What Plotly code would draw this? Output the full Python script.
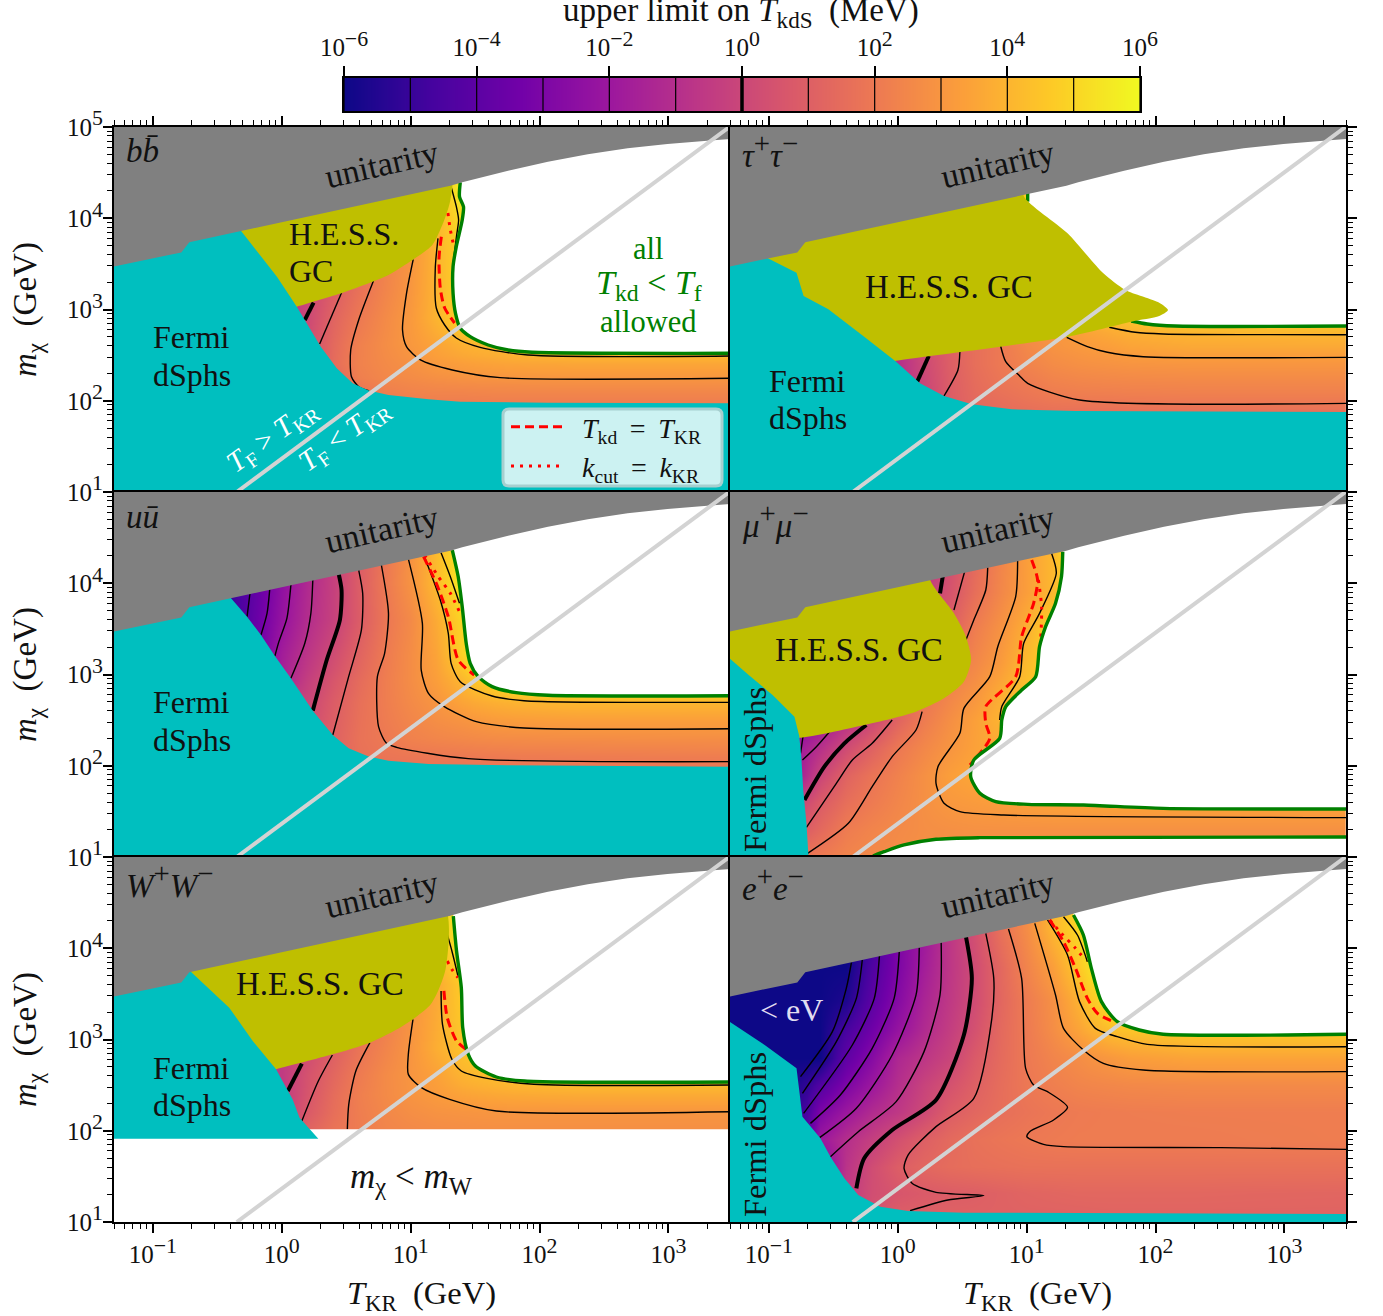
import plotly.graph_objects as go

W, H = 1383, 1316
FONT = "Liberation Serif"
TEAL, OLIVE, GRAY, GREEN, DIAG = "#00BFBF", "#BFBF00", "#808080", "#008000", "#D3D3D3"

# Shared curves: log10(T_KR / GeV) and log10(m_chi / GeV)
UNI_T = [-1.31, -0.779, -0.717, -0.315, 1.308, 1.400, 1.756, 2.065, 2.374, 2.683, 2.992, 3.301, 3.49]
UNI_M = [3.469, 3.626, 3.736, 3.860, 4.357, 4.394, 4.521, 4.620, 4.700, 4.766, 4.814, 4.850, 4.870]
DIAG_T = [-0.349, 3.473]
DIAG_M = [1.0, 5.0]
X_DECADES = [-1, 0, 1, 2, 3]
Y_DECADES = [1, 2, 3, 4, 5]
CB_LEVELS = [-6, -5, -4, -3, -2, -1, 0, 1, 2, 3, 4, 5, 6]
CB_TICKS = [-6, -4, -2, 0, 2, 4, 6]

# ---------- b bbar ----------
BB_COLS = [0, .2, .4, .6, .8, 1, 1.2, 1.4, 1.6, 2, 3.5]
BB_ROWS = [1.9, 2.1, 2.25, 2.4, 2.6, 2.9, 3.2, 3.6, 4.0, 4.4]
BB_Z = [
    [-1, 0, 1, 1.5, 1.9, 2, 2, 2, 2, 2, 2],
    [-1, 0, 1, 1.8, 2.2, 2.35, 2.4, 2.4, 2.45, 2.45, 2.45],
    [-1, 0, 1.2, 2.2, 2.5, 2.65, 2.8, 2.9, 2.95, 3, 3],
    [-1, .2, 1.5, 2.3, 2.6, 2.85, 3.15, 3.3, 3.45, 3.55, 3.55],
    [-1, .3, 1.4, 2.25, 2.7, 3.1, 3.5, 3.9, 4.1, 4.5, 4.5],
    [-1, .1, 1.2, 2, 2.6, 3.15, 4, 4.9, 6, 6, 6],
    [-1, 0, .9, 1.7, 2.4, 3.05, 4, 5, 6, 6, 6],
    [-1, -.1, .8, 1.5, 2.3, 3, 4, 5, 6, 6, 6],
    [-1, -.2, .6, 1.4, 2.3, 3.2, 4, 5.2, 6, 6, 6],
    [-1, -.2, .6, 1.4, 2.3, 3.2, 4.2, 5.8, 6, 6, 6],
]
BB_FERMI_T = [-1.31, -.315, -.315, -.176, -.037, .117, .179, .303, .427, .550, .674, .828, 1.138, 1.385, 2.065, 3.49, 3.49, -1.31]
BB_FERMI_M = [4.0, 4.0, 3.860, 3.616, 3.360, 3.031, 2.885, 2.593, 2.355, 2.191, 2.111, 2.063, 2.016, 1.990, 1.979, 1.972, 1.0, 1.0]
BB_HESS_T = [-.4, 1.308, 1.308, 1.261, 1.168, 1.014, .828, .674, .473, .117, -.1, -.4]
BB_HESS_M = [3.9, 4.5, 4.200, 3.981, 3.707, 3.542, 3.378, 3.287, 3.184, 3.031, 2.94, 3.3]
BB_GREEN = [([1.385, 1.379, 1.410, 1.400, 1.354, 1.329, 1.329, 1.348, 1.385, 1.462, 1.601, 1.756, 1.941, 3.49],
             [4.394, 4.236, 4.127, 3.981, 3.689, 3.469, 3.177, 2.958, 2.794, 2.702, 2.611, 2.556, 2.531, 2.520])]
BB_WHITE = [([1.385, 1.379, 1.410, 1.400, 1.354, 1.329, 1.329, 1.348, 1.385, 1.462, 1.601, 1.756, 1.941, 3.49, 3.49, 1.385],
             [4.394, 4.236, 4.127, 3.981, 3.689, 3.469, 3.177, 2.958, 2.794, 2.702, 2.611, 2.556, 2.531, 2.520, 5, 5])]
BB_CONTOURS = [
    (0, [.247, .179], [3.075, 2.885]),
    (1, [.464, .294], [3.184, 2.622]),
    (2, [.711, .597, .535, .541, .597, .674], [3.312, 2.885, 2.556, 2.264, 2.154, 2.111]),
    (3, [1.020, .968, .937, .968, 1.076, 1.323, 1.694, 3.49], [3.550, 3.177, 2.775, 2.593, 2.447, 2.337, 2.253, 2.246]),
    (4, [1.212, 1.191, 1.199, 1.264, 1.354, 1.539, 1.910, 3.49], [3.780, 3.451, 3.016, 2.830, 2.688, 2.585, 2.501, 2.490]),
    (5, [1.310, 1.357, 1.372, 1.357, 1.333, 1.326], [4.364, 4.112, 3.981, 3.816, 3.542, 3.411]),
]
BB_DASH = ([1.238, 1.220, 1.230, 1.264, 1.341], [3.798, 3.564, 3.235, 3.016, 2.852])
BB_DOT = ([1.289, 1.308, 1.336], [4.057, 3.872, 3.688])

# ---------- tau tau ----------
TT_COLS = [0, .2, .4, .6, .8, 1, 1.2, 1.4, 1.6, 2, 3.5]
TT_ROWS = [1.85, 2.0, 2.2, 2.4, 2.6, 2.75, 2.9, 3.2, 4.4]
TT_Z = [
    [-1, -.3, .8, 1.3, 1.45, 1.5, 1.55, 1.55, 1.55, 1.55, 1.55],
    [-1, -.2, .9, 1.4, 1.6, 1.8, 1.95, 2, 2, 2.05, 2.05],
    [-1, 0, .9, 1.5, 1.85, 2.05, 2.3, 2.4, 2.45, 2.5, 2.5],
    [-1, .1, .95, 1.6, 2, 2.35, 2.65, 2.8, 2.9, 3, 3],
    [-1, .2, 1, 1.6, 2, 2.55, 2.9, 3.1, 3.3, 3.6, 3.6],
    [-1, .2, 1, 1.6, 2.1, 2.7, 3, 3.3, 3.7, 4.05, 4.1],
    [-1, .2, 1, 1.7, 2.2, 2.8, 3.2, 3.6, 4.3, 4.8, 4.8],
    [-1, .2, 1, 1.7, 2.3, 2.9, 3.3, 3.7, 4.5, 5, 5],
    [-1, .2, 1, 1.7, 2.6, 5.2, 5.5, 5.5, 5.5, 5.5, 5.5],
]
TT_FERMI_T = [-1.31, -1.008, -1.008, -.785, -.730, -.538, -.260, -.012, .173, .359, .575, .884, 1.379, 3.49, 3.49, -1.31]
TT_FERMI_M = [4.0, 4.0, 3.561, 3.404, 3.148, 3.002, 2.702, 2.428, 2.191, 2.052, 1.961, 1.906, 1.888, 1.877, 1.0, 1.0]
TT_HESS_T = [-1.1, -1.1, .977, .977, 1.317, 1.595, 1.765, 2.028, 2.096, 2.028, 1.811, 1.317, -.012, -.3, -.5, -.9]
TT_HESS_M = [3.4, 3.9, 4.5, 4.244, 3.835, 3.396, 3.214, 3.075, 2.995, 2.929, 2.867, 2.702, 2.439, 2.38, 2.8, 3.2]
TT_GREEN = [([1.008, 1.008], [4.290, 4.182]),
            ([1.811, 1.935, 2.151, 3.49], [2.874, 2.841, 2.819, 2.819])]
TT_WHITE = [([1.008, 1.008, 1.811, 1.935, 2.151, 3.49, 3.49], [5, 4.18, 2.874, 2.841, 2.819, 2.819, 5])]
TT_CONTOURS = [
    (0, [.241, .151], [2.490, 2.209]),
    (1, [.482, .467, .359], [2.538, 2.337, 2.052]),
    (2, [.798, .838, .946, 1.008, 1.410, 3.49], [2.600, 2.428, 2.271, 2.191, 2.008, 1.972]),
    (3, [1.311, 1.471, 1.626, 1.904, 3.49], [2.695, 2.593, 2.531, 2.483, 2.476]),
    (4, [1.641, 1.842, 2.059, 3.49], [2.805, 2.750, 2.732, 2.724]),
]

# ---------- u ubar ----------
UU_COLS = [-.4, -.2, 0, .2, .4, .6, .8, 1, 1.2, 1.4, 1.6, 2, 3.5]
UU_ROWS = [1.9, 2.1, 2.3, 2.5, 2.7, 2.9, 3.2, 3.6, 4.0, 4.4]
UU_Z = [
    [-1, -1, 0, .5, 1, 1.4, 1.6, 1.65, 1.7, 1.7, 1.7, 1.7, 1.7],
    [-1, -1, 0, .7, 1.1, 1.7, 1.85, 1.92, 1.96, 2, 2.05, 2.1, 2.15],
    [-1, -1, 0, .7, 1.1, 1.75, 2, 2.3, 2.45, 2.55, 2.65, 2.7, 2.75],
    [-1, -1, 0, .2, 1, 1.7, 2.1, 2.45, 2.75, 2.95, 3.2, 3.3, 3.3],
    [-3, -1.5, -.3, 0, .9, 1.65, 2.15, 2.6, 3, 3.5, 3.85, 4.1, 4.05],
    [-4, -2.5, -1.5, -.3, .65, 1.5, 2.15, 2.7, 3.3, 4.05, 5, 6, 6],
    [-5, -3.5, -1.75, -.7, .25, 1.2, 2.05, 2.7, 3.5, 4.9, 6, 6, 6],
    [-5, -3.6, -2.2, -1.05, -.2, .9, 1.9, 2.6, 3.7, 5, 6, 6, 6],
    [-4.8, -3.8, -2.4, -1.2, -.25, .95, 2, 2.9, 4.2, 5.6, 6, 6, 6],
    [-3.5, -3.5, -2.5, -1.3, -.3, .9, 1.9, 2.9, 4.2, 5.5, 6, 6, 6],
]
UU_FERMI_T = [-1.31, -.393, -.393, -.269, -.161, -.053, .071, .241, .396, .519, .674, .828, 1.138, 1.756, 3.49, 3.49, -1.31]
UU_FERMI_M = [4.2, 4.2, 3.835, 3.634, 3.433, 3.203, 2.958, 2.604, 2.337, 2.191, 2.100, 2.056, 2.019, 2.005, 1.990, 1.0, 1.0]
UU_HESS_T = []
UU_HESS_M = []
UU_GREEN = [([1.323, 1.369, 1.400, 1.431, 1.462, 1.524, 1.632, 1.818, 2.065, 3.49],
             [4.364, 4.072, 3.743, 3.342, 3.122, 2.976, 2.867, 2.801, 2.772, 2.768])]
UU_WHITE = [([1.323, 1.369, 1.400, 1.431, 1.462, 1.524, 1.632, 1.818, 2.065, 3.49, 3.49, 1.323],
             [4.364, 4.072, 3.743, 3.342, 3.122, 2.976, 2.867, 2.801, 2.772, 2.768, 5, 5])]
UU_CONTOURS = [
    (-4, [-.247, -.269], [3.882, 3.634]),
    (-3, [-.093, -.114, -.161], [3.933, 3.670, 3.433]),
    (-2, [.071, .040, -.022, -.053], [3.981, 3.616, 3.360, 3.203]),
    (-1, [.241, .226, .179, .071], [4.036, 3.670, 3.342, 2.958]),
    (0, [.442, .464, .451, .349, .241], [4.101, 3.926, 3.597, 3.159, 2.604]),
    (1, [.597, .628, .618, .519, .396], [4.145, 3.889, 3.488, 2.976, 2.337]),
    (2, [.773, .828, .798, .742, .751, .813, .890, 1.447, 3.49], [4.200, 3.670, 3.232, 2.976, 2.428, 2.246, 2.202, 2.078, 2.045]),
    (3, [.983, 1.091, 1.082, 1.138, 1.261, 1.509, 1.879, 3.49], [4.262, 3.561, 3.049, 2.794, 2.648, 2.483, 2.414, 2.406]),
    (4, [1.107, 1.230, 1.292, 1.314, 1.385, 1.632, 1.879, 3.49], [4.291, 3.816, 3.451, 3.122, 2.921, 2.764, 2.713, 2.695]),
    (5, [1.236, 1.308, 1.379], [4.335, 4.072, 3.780]),
]
UU_DASH = ([1.100, 1.199, 1.292, 1.369, 1.493], [4.291, 3.999, 3.634, 3.159, 2.995])
UU_DOT = ([1.107, 1.215, 1.308, 1.385], [4.310, 4.072, 3.889, 3.670])

# ---------- mu mu ----------
MM_COLS = [-.8, -.6, -.4, -.2, 0, .2, .4, .6, .8, 1, 1.2, 1.4, 2, 3.5]
MM_ROWS = [1.0, 1.3, 1.6, 1.9, 2.2, 2.5, 2.8, 3.1, 3.5, 3.9, 4.3]
MM_Z = [
    [1.8, 2.1, 2.4, 2.6, 2.7, 2.8, 2.8, 2.8, 2.8, 2.8, 2.8, 2.8, 2.8, 2.8],
    [.6, 1.4, 2.1, 2.4, 2.6, 2.75, 2.8, 2.85, 2.85, 2.85, 2.85, 2.85, 2.85, 2.85],
    [-.3, .85, 1.6, 2.05, 2.45, 2.8, 3.1, 3.2, 3.3, 3.4, 3.5, 3.5, 3.5, 3.5],
    [-2, 0, 1.15, 1.8, 2.3, 2.8, 3.3, 3.6, 3.8, 3.8, 3.8, 3.8, 3.8, 3.8],
    [-2, -.9, .2, 1.1, 1.95, 2.5, 2.97, 3.4, 3.7, 4, 4, 4, 4, 4],
    [-3, -2, -.9, 0, 1.2, 2.1, 2.75, 3.35, 4, 4.6, 4.8, 4.8, 4.8, 4.8],
    [-3, -2, -1, 0, 1, 1.8, 2.4, 2.95, 3.75, 4.4, 5, 5, 5, 5],
    [-3, -2, -1, 0, .7, 1.3, 1.9, 2.5, 3.2, 4.2, 5, 5, 5, 5],
    [-3, -2, -1, -.5, 0, .5, 1, 2.15, 2.9, 3.85, 5, 5, 5, 5],
    [-3, -2, -1, -1, -.8, -.5, .5, 1.6, 2.5, 3.3, 4.1, 5.5, 5.5, 5.5],
    [-3, -2, -1, -1, -.8, -.8, .3, 1.4, 2.4, 3.3, 4.1, 6, 6, 6],
]
MM_FERMI_T = [-1.31, -1.304, -1.156, -.971, -.801, -.764, -.748, -.733, -.708, -.692, -1.31]
MM_FERMI_M = [3.2, 3.177, 2.995, 2.775, 2.538, 2.326, 2.100, 1.734, 1.369, 1.0, 1.0]
MM_HESS_T = [-1.31, -.75, .250, .250, .436, .529, .569, .513, .359, .142, -.260, -.85, -1.31]
MM_HESS_M = [3.9, 4.2, 4.5, 4.043, 3.670, 3.415, 3.159, 2.921, 2.739, 2.593, 2.447, 2.3, 2.5]
MM_GREEN = [([1.280, 1.270, 1.224, 1.147, 1.100, 1.070, .961, .838, .807, .791, .590, .566, .637, .760, 1.008, 1.441, 2.059, 3.49],
             [4.346, 4.072, 3.780, 3.524, 3.305, 2.976, 2.830, 2.648, 2.501, 2.300, 2.063, 1.880, 1.698, 1.606, 1.577, 1.570, 1.533, 1.526]),
            ([-.192, -.105, .049, .297, .637, 3.49], [1.011, 1.058, 1.132, 1.194, 1.212, 1.219])]
MM_WHITE = [([1.280, 1.270, 1.224, 1.147, 1.100, 1.070, .961, .838, .807, .791, .590, .566, .637, .760, 1.008, 1.441, 2.059, 3.49, 3.49, 1.280],
             [4.346, 4.072, 3.780, 3.524, 3.305, 2.976, 2.830, 2.648, 2.501, 2.300, 2.063, 1.880, 1.698, 1.606, 1.577, 1.570, 1.533, 1.526, 5, 5]),
            ([-.21, -.192, -.105, .049, .297, .637, 3.49, 3.49], [1.0, 1.011, 1.058, 1.132, 1.194, 1.212, 1.219, 1.0])]
MM_CONTOURS = [
    (-2, [-.733, -.754], [2.337, 2.136]),
    (-1, [-.522, -.631, -.739], [2.384, 2.209, 2.063]),
    (0, [.349, .328], [4.072, 3.889]),
    (0, [-.244, -.414, -.569, -.723], [2.447, 2.246, 1.990, 1.625]),
    (1, [.519, .436], [4.127, 3.707]),
    (1, [-.043, -.198, -.352, -.476, -.708], [2.501, 2.246, 2.063, 1.807, 1.325]),
    (2, [.698, .683, .590, .529], [4.174, 3.926, 3.597, 3.378]),
    (2, [.189, .142, -.043, -.198, -.383, -.699], [2.593, 2.392, 2.100, 1.771, 1.369, 1.040]),
    (3, [.930, .915, .776, .714, .513, .482, .312, .297, .359, .482, .822, 3.49],
        [4.247, 3.853, 3.305, 2.976, 2.629, 2.355, 1.990, 1.807, 1.588, 1.497, 1.460, 1.431]),
    (4, [1.193, 1.230, 1.100, .977, .946, .807, .791], [4.328, 4.109, 3.670, 3.342, 2.976, 2.648, 2.501]),
]
MM_DASH = ([1.039, 1.085, 1.054, .961, .915, .683, .683, .714, .560], [4.255, 4.036, 3.780, 3.415, 2.976, 2.648, 2.465, 2.300, 2.008])
MM_DOT = ([1.091, 1.116, 1.110], [4.036, 3.743, 3.415])

# ---------- W W ----------
WW_COLS = [0, .2, .4, .6, .8, 1, 1.2, 1.4, 1.6, 2, 3.5]
WW_ROWS = [2.0, 2.2, 2.4, 2.6, 2.9, 3.2, 3.6, 4.0, 4.4]
WW_Z = [
    [-.5, 1.2, 1.8, 2.1, 2.4, 2.55, 2.65, 2.7, 2.75, 2.75, 2.75],
    [-.5, .8, 1.6, 2.15, 2.5, 2.75, 2.9, 2.95, 3, 3, 3],
    [-.5, .6, 1.5, 2.2, 2.6, 2.95, 3.2, 3.45, 3.6, 3.7, 3.7],
    [-.5, .5, 1.3, 2.05, 2.6, 3, 3.4, 4, 4.3, 4.6, 4.6],
    [-.5, .2, 1, 1.8, 2.4, 3, 3.8, 4.4, 5, 5, 5],
    [-.5, .2, .8, 1.5, 2.2, 2.95, 3.7, 4.6, 5, 5, 5],
    [-.5, .2, .8, 1.5, 2.2, 2.9, 3.6, 4.7, 5, 5, 5],
    [-.5, .2, .8, 1.5, 2.2, 3, 4.2, 5.5, 6, 6, 6],
    [-.5, .2, .8, 1.5, 2.2, 3, 4.5, 5.7, 6, 6, 6],
]
WW_FERMI_T = [-1.31, -.705, -.705, -.589, -.407, -.225, -.044, .084, .138, .284, -1.31]
WW_FERMI_M = [4.0, 4.0, 3.743, 3.586, 3.349, 2.984, 2.673, 2.344, 2.143, 1.913, 1.913]
WW_HESS_T = [-.9, 1.247, 1.273, 1.156, .938, .684, .393, -.044, -.3, -.9]
WW_HESS_M = [3.9, 4.5, 3.787, 3.385, 3.148, 2.965, 2.837, 2.673, 2.58, 3.3]
WW_GREEN = [([1.331, 1.356, 1.393, 1.404, 1.447, 1.502, 1.665, 1.884, 3.49], [4.353, 3.970, 3.568, 3.130, 2.837, 2.710, 2.589, 2.545, 2.534])]
WW_WHITE = [([1.331, 1.356, 1.393, 1.404, 1.447, 1.502, 1.665, 1.884, 3.49, 3.49, 1.331], [4.353, 3.970, 3.568, 3.130, 2.837, 2.710, 2.589, 2.545, 2.534, 5, 5]),
            ([-1.31, 3.49, 3.49, -1.31], [1.0, 1.0, 2.016, 2.016])]
WW_CONTOURS = [
    (0, [.156, .047], [2.735, 2.436]),
    (1, [.393, .284, .156], [2.830, 2.545, 2.107]),
    (2, [.684, .575, .520, .509], [2.965, 2.655, 2.289, 2.016]),
    (3, [1.018, .982, .982, 1.084, 1.302, 1.665, 3.49], [3.221, 2.837, 2.618, 2.472, 2.344, 2.216, 2.209]),
    (4, [1.236, 1.247, 1.320, 1.393, 1.593, 1.956, 3.49], [3.532, 3.166, 2.783, 2.655, 2.574, 2.509, 2.501]),
    (5, [1.247, 1.320, 1.367], [4.335, 3.970, 3.696]),
]
WW_DASH = ([1.258, 1.284, 1.356, 1.429], [3.532, 3.239, 2.984, 2.892])
WW_DOT = ([1.284, 1.320, 1.367], [3.860, 3.769, 3.678])

# ---------- e e ----------
EE_COLS = [-1.4, -.8, -.6, -.4, -.2, 0, .2, .4, .6, .8, 1, 1.2, 1.4, 1.6, 2, 3.5]
EE_ROWS = [1.05, 1.3, 1.6, 1.9, 2.2, 2.5, 2.8, 3.1, 3.4, 3.8, 4.2]
EE_Z = [
    [-6, -6, -3, -.8, .5, 1, 1.05, 1.1, 1.1, 1.1, 1.1, 1.1, 1.1, 1.15, 1.15, 1.15],
    [-6, -6, -3, -.5, .3, .6, .8, .9, .97, 1.1, 1.2, 1.25, 1.3, 1.3, 1.3, 1.25],
    [-6, -6, -3, -.8, .25, .95, 1.3, 1.5, 1.6, 1.65, 1.7, 1.7, 1.7, 1.7, 1.7, 1.7],
    [-6, -6, -2, -1, -.3, .4, 1, 1.4, 1.7, 1.85, 1.97, 2.05, 2.1, 2.1, 2.1, 2.15],
    [-6, -6, -3, -2, -1.15, -.6, .1, .9, 1.3, 1.6, 1.8, 1.95, 2.05, 2.1, 2.15, 2.15],
    [-6, -6, -4.3, -3, -2, -1, -.15, .45, 1.05, 1.55, 1.95, 2.2, 2.4, 2.5, 2.6, 2.6],
    [-6, -6, -6, -3.9, -2.7, -1.3, -.7, -.1, .8, 1.45, 2, 2.4, 2.7, 3.1, 3.5, 3.5],
    [-6, -6, -6, -4.6, -3.4, -2.2, -1.2, -.4, .45, 1.4, 2.05, 2.7, 3.45, 4.3, 4.7, 4.7],
    [-6, -6, -6, -5.6, -4, -2.7, -1.45, -.6, .25, 1.3, 2.1, 2.8, 3.9, 5.3, 6, 6],
    [-6, -6, -6, -6, -4.4, -3, -1.75, -.7, .25, 1.35, 2.4, 3.3, 4.6, 6, 6, 6],
    [-6, -6, -6, -6, -5, -3, -2, -.7, .4, 1.7, 2.7, 4.05, 5, 6, 6, 6],
]
EE_FERMI_T = [-1.31, -1.304, -1.032, -.785, -.739, -.600, -.522, -.414, -.306, -.136, .080, .513, 3.49, 3.49, -1.31]
EE_FERMI_M = [3.25, 3.195, 2.940, 2.684, 2.154, 1.917, 1.716, 1.479, 1.296, 1.168, 1.121, 1.102, 1.088, 1.0, 1.0]
EE_HESS_T = []
EE_HESS_M = []
EE_GREEN = [([1.363, 1.440, 1.502, 1.580, 1.703, 1.873, 2.059, 3.49], [4.364, 4.145, 3.780, 3.415, 3.195, 3.104, 3.057, 3.057])]
EE_WHITE = [([1.363, 1.440, 1.502, 1.580, 1.703, 1.873, 2.059, 3.49, 3.49, 1.363], [4.364, 4.145, 3.780, 3.415, 3.195, 3.104, 3.057, 3.057, 5, 5])]
EE_CONTOURS = [
    (-6, [-.359, -.399, -.507, -.754], [3.846, 3.561, 3.086, 2.593]),
    (-5, [-.275, -.321, -.476, -.739], [3.871, 3.451, 2.976, 2.410]),
    (-4, [-.142, -.182, -.352, -.730], [3.919, 3.451, 2.940, 2.191]),
    (-3, [.012, -.028, -.198, -.445, -.677], [3.963, 3.451, 2.903, 2.392, 2.081]),
    (-2, [.167, .142, -.043, -.321, -.606], [4.006, 3.488, 2.830, 2.246, 1.924]),
    (-1, [.337, .328, .204, -.012, -.306, -.522], [4.065, 3.488, 2.867, 2.319, 1.990, 1.716]),
    (0, [.529, .575, .513, .297, -.043, -.260, -.321], [4.127, 3.670, 3.049, 2.337, 2.008, 1.698, 1.369]),
    (1, [.683, .745, .730, .590, .297, .080, .049, .111, .297, .668, .389, .096],
        [4.163, 3.670, 3.232, 2.355, 2.045, 1.734, 1.588, 1.424, 1.325, 1.289, 1.241, 1.124]),
    (2, [.859, .961, .992, 1.054, 1.162, 1.317, 1.209, 1.023, 1.002, 1.131, 1.286, 2.507, 3.49],
        [4.211, 3.670, 2.684, 2.501, 2.428, 2.257, 2.118, 1.990, 1.935, 1.851, 1.826, 1.815, 1.796]),
    (3, [1.063, 1.224, 1.286, 1.440, 1.595, 1.904, 3.49], [4.273, 3.488, 3.122, 2.885, 2.739, 2.666, 2.648]),
    (4, [1.162, 1.317, 1.410, 1.533, 1.703, 1.935, 3.49], [4.310, 3.926, 3.415, 3.122, 3.031, 2.947, 2.921]),
    (5, [1.286, 1.394, 1.471], [4.346, 4.145, 3.853]),
]
EE_DASH = ([1.178, 1.286, 1.379, 1.471, 1.549, 1.672], [4.310, 4.072, 3.780, 3.451, 3.287, 3.195])
EE_DOT = ([1.178, 1.270, 1.379, 1.456], [4.310, 4.163, 4.000, 3.871])

PANELS = [
    dict(cols=BB_COLS, rows=BB_ROWS, z=BB_Z, fermi=(BB_FERMI_T, BB_FERMI_M), hess=(BB_HESS_T, BB_HESS_M), green=BB_GREEN, white=BB_WHITE, cont=BB_CONTOURS, dash=BB_DASH, dot=BB_DOT, col=0, row=0),
    dict(cols=TT_COLS, rows=TT_ROWS, z=TT_Z, fermi=(TT_FERMI_T, TT_FERMI_M), hess=(TT_HESS_T, TT_HESS_M), green=TT_GREEN, white=TT_WHITE, cont=TT_CONTOURS, dash=None, dot=None, col=1, row=0),
    dict(cols=UU_COLS, rows=UU_ROWS, z=UU_Z, fermi=(UU_FERMI_T, UU_FERMI_M), hess=(UU_HESS_T, UU_HESS_M), green=UU_GREEN, white=UU_WHITE, cont=UU_CONTOURS, dash=UU_DASH, dot=UU_DOT, col=0, row=1),
    dict(cols=MM_COLS, rows=MM_ROWS, z=MM_Z, fermi=(MM_FERMI_T, MM_FERMI_M), hess=(MM_HESS_T, MM_HESS_M), green=MM_GREEN, white=MM_WHITE, cont=MM_CONTOURS, dash=MM_DASH, dot=MM_DOT, col=1, row=1),
    dict(cols=WW_COLS, rows=WW_ROWS, z=WW_Z, fermi=(WW_FERMI_T, WW_FERMI_M), hess=(WW_HESS_T, WW_HESS_M), green=WW_GREEN, white=WW_WHITE, cont=WW_CONTOURS, dash=WW_DASH, dot=WW_DOT, col=0, row=2),
    dict(cols=EE_COLS, rows=EE_ROWS, z=EE_Z, fermi=(EE_FERMI_T, EE_FERMI_M), hess=(EE_HESS_T, EE_HESS_M), green=EE_GREEN, white=EE_WHITE, cont=EE_CONTOURS, dash=EE_DASH, dot=EE_DOT, col=1, row=2),
]

XLEFT = [114, 730]
XRIGHT = [730, 1346]
YTOP = [127, 492, 857]
YBOT = [492, 857, 1222]
SMOOTH = dict(shape="spline", smoothing=0.7)


def lin(a):
    return [10 ** v for v in a]


def edges(v):
    e = [v[0] - (v[1] - v[0]) / 2]
    e += [(a + b) / 2 for a, b in zip(v[:-1], v[1:])]
    e.append(v[-1] + (v[-1] - v[-2]) / 2)
    return lin(e)


def sup(s):
    return f'<sup><span style="font-size:125%">{s}</span></sup>'


def filled(t, m, color, smooth, **common):
    mode = dict(mode="lines", line=dict(color=color, width=0, **(SMOOTH if smooth else {})))
    return go.Scatter(x=lin(t), y=lin(m), fill="toself", fillcolor=color, **mode, **common)


fig = go.Figure()
layout = {}
XMINOR = [k * 10 ** d for d in [-2, -1, 0, 1, 2, 3] for k in range(2, 10)]
YMINOR = [k * 10 ** d for d in [1, 2, 3, 4] for k in range(2, 10)]
XTICKV = [10 ** d for d in X_DECADES]
YTICKV = [10 ** d for d in Y_DECADES]
XTICKT = ["10" + sup(str(d).replace("-", "−")) for d in X_DECADES]


def axis_base():
    return dict(type="log", showgrid=False, zeroline=False, showline=True, mirror=True,
                linecolor="black", linewidth=2, tickcolor="black",
                tickfont=dict(family=FONT, size=25, color="#111"))


for i, p in enumerate(PANELS):
    n = "" if i == 0 else str(i + 1)
    xref, yref = f"x{n}", f"y{n}"
    common = dict(xaxis=xref, yaxis=yref, hoverinfo="skip", showlegend=False)

    fig.add_trace(go.Heatmap(x=edges(p["cols"]), y=edges(p["rows"]), z=p["z"], colorscale="Plasma",
                             zmin=-6, zmax=6, zsmooth="best", showscale=False, xaxis=xref, yaxis=yref, hoverinfo="skip"))
    for lev, t, m in p["cont"]:
        fig.add_trace(go.Scatter(x=lin(t), y=lin(m), mode="lines",
                                 line=dict(color="black", width=4 if lev == 0 else 1.4, **SMOOTH), **common))
    if p["dot"]:
        kw = dict(common)
        if i == 0:
            kw["showlegend"] = True
        fig.add_trace(go.Scatter(x=lin(p["dash"][0]), y=lin(p["dash"][1]), mode="lines",
                                 line=dict(color="red", width=3, dash="9px,5px", **SMOOTH),
                                 name="&#8194;<i>T</i><sub>kd</sub> &#8201;=&#8201; <i>T</i><sub>KR</sub>", **kw))
        fig.add_trace(go.Scatter(x=lin(p["dot"][0]), y=lin(p["dot"][1]), mode="lines",
                                 line=dict(color="red", width=3, dash="3px,6px", **SMOOTH),
                                 name="&#8194;<i>k</i><sub>cut</sub> &#8201;=&#8201; <i>k</i><sub>KR</sub>", **kw))
    for t, m in p["white"]:
        fig.add_trace(filled(t, m, "white", False, **common))
    for t, m in p["green"]:
        fig.add_trace(go.Scatter(x=lin(t), y=lin(m), mode="lines", line=dict(color=GREEN, width=3.4, **SMOOTH), **common))
    if p["hess"][0]:
        fig.add_trace(filled(p["hess"][0], p["hess"][1], OLIVE, True, **common))
    fig.add_trace(filled(p["fermi"][0], p["fermi"][1], TEAL, False, **common))
    fig.add_trace(go.Scatter(x=lin(UNI_T + [3.49, -1.31]), y=lin(UNI_M + [5.1, 5.1]), mode="lines", line=dict(width=0, color=GRAY),
                             fill="toself", fillcolor=GRAY, **common))
    fig.add_trace(go.Scatter(x=lin(DIAG_T), y=lin(DIAG_M), mode="lines", line=dict(color=DIAG, width=4), **common))

    col, row = p["col"], p["row"]
    xa = axis_base()
    xa.update(domain=[XLEFT[col] / W, XRIGHT[col] / W], anchor=yref, range=[-1.30103, 3.47712],
              tickmode="array", tickvals=XTICKV, ticktext=XTICKT)
    if row == 0:
        xa.update(side="top", showticklabels=False, ticks="outside", ticklen=9, tickwidth=1.6,
                  minor=dict(tickmode="array", tickvals=XMINOR, ticks="outside", ticklen=5, tickwidth=1.2, tickcolor="black"))
    elif row == 2:
        xa.update(side="bottom", ticks="outside", ticklen=9, tickwidth=1.6,
                  minor=dict(tickmode="array", tickvals=XMINOR, ticks="outside", ticklen=5, tickwidth=1.2, tickcolor="black"))
    else:
        xa.update(showticklabels=False, ticks="")
    ya = axis_base()
    ytext = ["10" + sup(d) if (d < 5 or row == 0) else "" for d in Y_DECADES]
    ya.update(domain=[1 - YBOT[row] / H, 1 - YTOP[row] / H], anchor=xref, range=[1, 5],
              tickmode="array", tickvals=YTICKV, ticktext=ytext, ticks="outside", ticklen=9, tickwidth=1.6,
              ticklabelstandoff=-5,
              minor=dict(tickmode="array", tickvals=YMINOR, ticks="outside", ticklen=5, tickwidth=1.2, tickcolor="black"))
    if col == 1:
        ya.update(side="right", showticklabels=False)
    layout[f"xaxis{n}"] = xa
    layout[f"yaxis{n}"] = ya

# Colour bar, drawn on its own axis so that its decade lines can be included
fig.add_trace(go.Heatmap(x=CB_LEVELS, y=[0, 1], z=[CB_LEVELS, CB_LEVELS], colorscale="Plasma", zmin=-6, zmax=6,
                         zsmooth="best", showscale=False, xaxis="x7", yaxis="y7", hoverinfo="skip"))
for lev in CB_LEVELS:
    fig.add_trace(go.Scatter(x=[lev, lev], y=[0, 1], mode="lines", line=dict(color="black", width=3.5 if lev == 0 else 1.2),
                             xaxis="x7", yaxis="y7", hoverinfo="skip", showlegend=False))
layout["xaxis7"] = dict(domain=[344 / W, 1140 / W], anchor="y7", side="top", range=[-6, 6], showgrid=False, zeroline=False,
                        tickmode="array", tickvals=CB_TICKS,
                        ticktext=["10" + sup(str(v).replace("-", "−")) for v in CB_TICKS],
                        ticks="outside", ticklen=10, tickwidth=1.6, tickcolor="black",
                        showline=True, mirror=True, linecolor="black", linewidth=2,
                        tickfont=dict(family=FONT, size=25, color="#111"))
layout["yaxis7"] = dict(domain=[1 - 111 / H, 1 - 78 / H], anchor="x7", range=[0, 1], showticklabels=False, ticks="",
                        showgrid=False, zeroline=False, showline=True, mirror=True, linecolor="black", linewidth=2)

annots = []


def ann(text, x, y, size=28, color="#111", angle=0, align="center"):
    annots.append(dict(text=text, x=x / W, y=1 - y / H, xref="paper", yref="paper", showarrow=False,
                       xanchor=align, yanchor="middle", textangle=angle,
                       font=dict(family=FONT, size=size, color=color)))


MX = "<i>m</i><sub>χ</sub>  (GeV)"
TK = "<i>T</i><sub>KR</sub>  (GeV)"
KDS = "upper limit on <i>T</i><sub>kdS</sub>  (MeV)"
ann(KDS, 741, 12, 33)
for y in (310, 675, 1040):
    ann(MX, 27, y, 33, angle=-90)
for x in (421, 1037):
    ann(TK, x, 1295, 32.5)
for dx in (0, 616):
    for dy in (0, 365, 730):
        ann("unitarity", 381 + dx, 164 + dy, 34, angle=-13)
for text, x, y in [("<i>b</i><i>b̄</i>", 124, 151), ("<i>τ</i>" + sup("+") + "<i>τ</i>" + sup("−"), 740, 150),
                   ("<i>u</i><i>ū</i>", 124, 517), ("<i>μ</i>" + sup("+") + "<i>μ</i>" + sup("−"), 740, 520),
                   ("<i>W</i>" + sup("+") + "<i>W</i>" + sup("−"), 124, 880), ("<i>e</i>" + sup("+") + "<i>e</i>" + sup("−"), 740, 883)]:
    ann(text, x, y, 33, align="left")
for x, y, t in [(151, 337, "Fermi"), (151, 375, "dSphs"), (767, 381, "Fermi"), (767, 418, "dSphs"),
                (151, 702, "Fermi"), (151, 740, "dSphs"), (151, 1068, "Fermi"), (151, 1105, "dSphs"),
                (287, 234, "H.E.S.S."), (287, 271, "GC")]:
    ann(t, x, y, 32, align="left")
ann("H.E.S.S. GC", 949, 287, 33)
ann("H.E.S.S. GC", 859, 650, 33)
ann("H.E.S.S. GC", 320, 984, 33)
ann("Fermi dSphs", 755, 770, 32.5, angle=-90)
ann("Fermi dSphs", 755, 1135, 32.5, angle=-90)
ann("all", 648, 249, 30.5, GREEN)
ann("<i>T</i><sub>kd</sub> &lt; <i>T</i><sub>f</sub>", 649, 285, 34, GREEN)
ann("allowed", 648, 322, 30.5, GREEN)
ann("<i>T</i><sub>F</sub> &gt; <i>T</i><sub>KR</sub>", 272, 437, 29, "white", angle=-36)
ann("<i>T</i><sub>F</sub> &lt; <i>T</i><sub>KR</sub>", 344, 436, 29, "white", angle=-36)
ann("<i>m</i><sub>χ</sub> &lt; <i>m</i><sub>W</sub>", 411, 1178, 35)
ann("&lt; eV", 791, 1010, 32, "#E0DDF0")

# Rounded legend panel behind a transparent legend
BOX = (503, 409, 722, 486)
RAD = 6
x0, y0, x1, y1 = BOX[0] / W, 1 - BOX[1] / H, BOX[2] / W, 1 - BOX[3] / H
rx, ry = RAD / W, RAD / H
box_path = (f"M {x0 + rx} {y0} L {x1 - rx} {y0} Q {x1} {y0} {x1} {y0 - ry} L {x1} {y1 + ry} Q {x1} {y1} {x1 - rx} {y1} "
            f"L {x0 + rx} {y1} Q {x0} {y1} {x0} {y1 + ry} L {x0} {y0 - ry} Q {x0} {y0} {x0 + rx} {y0} Z")

fig.update_layout(
    width=W, height=H, autosize=False, margin=dict(l=0, r=0, t=0, b=0, autoexpand=False),
    paper_bgcolor="white", plot_bgcolor="white", annotations=annots,
    shapes=[dict(type="path", path=box_path, xref="paper", yref="paper", fillcolor="#CCF2F2",
                 line=dict(color="#A6CFCF", width=3), layer="above")],
    legend=dict(x=506 / W, y=1 - 402 / H, xanchor="left", yanchor="top", bgcolor="rgba(0,0,0,0)",
                borderwidth=0, itemwidth=52,
                font=dict(family=FONT, size=28, color="#111"), tracegroupgap=0),
    **layout,
)
fig.write_html("out.html", config={"displayModeBar": False},
               post_script="document.body.style.margin='0';document.body.style.overflow='hidden';")
